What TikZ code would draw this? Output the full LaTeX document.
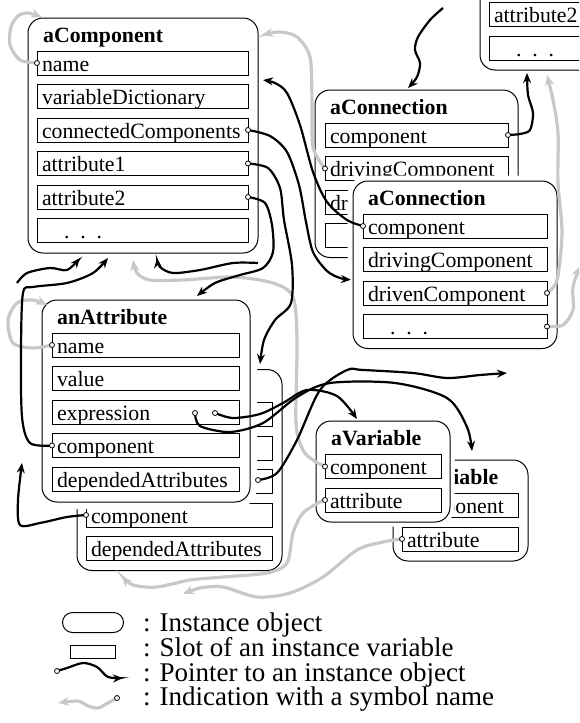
\documentclass[tikz,border=0pt]{standalone}
\usepackage{fontspec}
\setmainfont{Liberation Serif}
\usetikzlibrary{arrows.meta}
\definecolor{symgray}{RGB}{200,200,200}
\newcommand\slotfont{\fontsize{21.8pt}{24pt}\selectfont}
\newcommand\legfont{\fontsize{27pt}{29pt}\selectfont}

\begin{document}
\begin{tikzpicture}[x=1pt, y=-1pt,
  obj/.style={draw, line width=1pt, rounded corners=15pt, fill=white, inner sep=0pt, outer sep=0pt, anchor=north west},
  halo/.style={preaction={draw=white, line width=#1}},
  slot/.style={draw, line width=1pt, fill=white, anchor=north west, inner xsep=5pt, inner ysep=0pt, outer sep=0pt,
    text width=#1, text height=20pt, text depth=4pt, align=left, font=\slotfont},
  title/.style={anchor=base west, inner sep=0pt, font=\slotfont\bfseries},
  ptr/.style={line width=2.2pt, -{Stealth[length=10pt,width=8pt]}},
  sym/.style={draw=symgray, line width=3.2pt, -{Stealth[length=11pt,width=9pt]}},
  dot/.style={circle, draw, line width=0.8pt, fill=white, inner sep=0pt, minimum size=5pt},
  legtext/.style={anchor=base west, inner sep=0pt, font=\legfont}]

  \useasboundingbox (0,0) rectangle (579,723);
  \clip (0,0) rectangle (579,723);

  % objects behind
  \node[obj, minimum width=230pt, minimum height=235pt] (compB) at (480,-165) {};
  \node[slot=201pt] (compBAttrB) at (489,2) {attribute2};
  \node[slot=201pt] (compBMore) at (489,36.5) {\hspace*{22pt}. . .};

  \node[obj, minimum width=230pt, minimum height=235pt] (comp) at (28,18) {};
  \node[title] (compTitle) at (43,42) {aComponent};
  \foreach \n/\txt [count=\i from 0] in {Name/name, Dict/variableDictionary, Conn/connectedComponents,
      AttrA/attribute1, AttrB/attribute2, More/\hspace*{22pt}. . .}
    \node[slot=201pt] (comp\n) at (37,51+33.5*\i) {\txt};

  \node[obj, minimum width=203pt, minimum height=167.5pt] (conn) at (315,90) {};
  \node[title] (connTitle) at (330,114) {aConnection};
  \foreach \n/\txt [count=\i from 0] in {Comp/component, Driving/drivingComponent, Driven/drivenComponent, More/}
    \node[slot=173pt] (conn\n) at (325,123+33.5*\i) {\txt};

  \node[obj, halo=11pt, minimum width=204pt, minimum height=167.5pt] (connB) at (353,181) {};
  \node[title] (connBTitle) at (368,205) {aConnection};
  \foreach \n/\txt [count=\i from 0] in {Comp/component, Driving/drivingComponent, Driven/drivenComponent,
      More/\hspace*{22pt}. . .}
    \node[slot=174pt] (connB\n) at (363,214+33.5*\i) {\txt};

  % second attribute, mostly hidden
  \node[obj, minimum width=205pt, minimum height=201pt] (attrB) at (77,369.5) {};
  \foreach \n/\txt [count=\i from 0] in {Name/, Value/, Expr/, Comp/component, Dep/dependedAttributes}
    \node[slot=176pt] (attrB\n) at (86,402.5+33.5*\i) {\txt};

  \node[obj, halo=14pt, minimum width=208pt, minimum height=202pt] (attr) at (42,300) {};
  \node[title] (attrTitle) at (57,324) {anAttribute};
  \foreach \n/\txt [count=\i from 0] in {Name/name, Value/value, Expr/expression, Comp/component,
      Dep/dependedAttributes}
    \node[slot=177pt] (attr\n) at (52,333+33.5*\i) {\txt};

  \node[obj, minimum width=135pt, minimum height=101pt] (varB) at (393,460) {};
  \node[title] (varBTitle) at (408,484) {aVariable};
  \node[slot=106pt] (varBComp) at (402,493) {component};
  \node[slot=106pt] (varBAttr) at (402,527) {attribute};

  \node[obj, halo=9pt, minimum width=134pt, minimum height=101pt] (var) at (316,421) {};
  \node[title] (varTitle) at (331,445) {aVariable};
  \node[slot=106pt] (varComp) at (325,454.5) {component};
  \node[slot=106pt] (varAttr) at (325,488) {attribute};

  % free ends
  \coordinate (fromTop) at (443,8);
  \coordinate (fromLeft) at (17,283);
  \coordinate (fromRight) at (258,263);
  \coordinate (toLeft) at (22,463);
  \coordinate (toRight) at (507,373);
  \coordinate (toEdge) at (580,266);
  \coordinate (attrExprA) at ([shift={(143,1)}]attrExpr.west);
  \coordinate (attrExprB) at ([shift={(163,1)}]attrExpr.west);
  \coordinate (attrBExprA) at ([shift={(172,-1.5)}]attrBExpr.west);

  % symbol names
  \draw[sym] plot[smooth] coordinates {(compName.west) (20,60) (10,45) (11,27) (18,16) (28,13) ([shift={(14,-1)}]comp.north west)};
  \draw[sym] plot[smooth] coordinates {(connDriving.west) (313,147) (312,100) (310,57) (297,37) (280,32) ([shift={(4,-100.5)}]comp.east)};
  \draw[sym] plot[smooth] coordinates {(varComp.west) (313,460) (303,450) (296,423) (297,340) (293,297) (273,283) (233,277) (183,280) (150,280) (137,273) ([shift={(-10,7)}]comp.south)};
  \draw[sym] plot[smooth] coordinates {(varAttr.west) (320,502) (303,513) (293,533) (287,563) (267,573) (223,577) (190,580) (157,587) (133,585) ([shift={(45,5.5)}]attrB.south west)};
  \draw[sym] plot[smooth] coordinates {(varBAttr.west) (383,542) (357,550) (323,577) (290,593) (257,597) (223,587) (200,588) ([shift={(106,23.5)}]attrB.south west)};
  \draw[sym] plot[smooth] coordinates {(connBDriven.east) (557,280) (562,233) (558,183) (558,133) (553,100) ([shift={(67,5)}]compB.south west)};
  \draw[sym] plot[smooth] coordinates {(connBMore.east) (563,325) (573,310) (573,287) (toEdge)};
  \draw[sym] plot[smooth] coordinates {(attrName.west) (33,348) (13,343) (8,320) (17,303) (33,300) ([shift={(5,5)}]attr.north west)};

  % pointers
  \draw[ptr] plot[smooth] coordinates {(compConn.east) (270,136) (287,152) (299,185) (306,222) (313,252) (327,271) (340,278) ([shift={(-2,15)}]connB.west)};
  \draw[ptr] plot[smooth] coordinates {(compAttrA.east) (268,168) (280,188) (284,220) (292,265) (291,303) (275,320) (264,340) ([shift={(-22,-5.5)}]attrB.north east)};
  \draw[ptr] plot[smooth] coordinates {(compAttrB.east) (265,203) (272,225) (273,252) (263,268) (240,275) (215,283) ([shift={(51,-4)}]attr.north)};
  \draw[ptr] plot[smooth] coordinates {(connBComp.west) (347,220) (327,202) (313,172) (300,125) (287,93) (275,83) ([shift={(5,-55.5)}]comp.east)};
  \draw[ptr] plot[smooth] coordinates {(connComp.east) (520,134) (530,130) (533,113) (528,95) ([shift={(47,3)}]compB.south west)};
  \draw[ptr] plot[smooth] coordinates {(fromTop) (430,20) (418,37) (415,50) (420,63) (417,77) ([shift={(-8.5,-2)}]conn.north)};
  \draw[ptr] plot[smooth] coordinates {(attrComp.west) (30,443) (22,417) (21,350) (23,293) (33,287) (67,283) (93,273) ([shift={(-35,5)}]comp.south)};
  \draw[ptr] plot[smooth] coordinates {(fromLeft) (27,273) (50,268) (67,270) ([shift={(-63,5)}]comp.south)};
  \draw[ptr] plot[smooth] coordinates {(fromRight) (233,263) (200,270) (173,273) (160,267) ([shift={(14,5)}]comp.south)};
  \draw[ptr] plot[smooth] coordinates {(attrBComp.west) (67,517) (40,523) (20,525) (18,500) (toLeft)};
  \draw[ptr] plot[smooth] coordinates {(attrBExprA) (277,473) (297,440) (320,390) (347,370) (363,370) (413,373) (447,378) (480,375) (toRight)};
  \draw[ptr] plot[smooth] coordinates {(attrExprB) (233,418) (260,414) (283,403) (307,390) (337,396) ([shift={(-26,-2)}]var.north)};
  \draw[ptr] plot[smooth] coordinates {(attrExprA) (200,426) (230,432) (263,423) (297,397) (330,383) (395,383) (447,398) (467,427) ([shift={(11.5,-9)}]varB.north)};

  % slot ends
  \foreach \p in {compName.west, compConn.east, compAttrA.east, compAttrB.east, connComp.east, connDriving.west,
      connBComp.west, connBDriven.east, connBMore.east, attrName.west, attrComp.west, attrExprA, attrExprB,
      attrBComp.west, attrBExprA, varComp.west, varAttr.west, varBAttr.west}
    \node[dot] at (\p) {};

  % legend
  \node[draw, line width=1pt, rounded corners=10pt, minimum width=61pt, minimum height=20pt, inner sep=0pt, anchor=north west] (legObj) at (62,612) {};
  \node[draw, line width=1pt, minimum width=45pt, minimum height=13pt, inner sep=0pt, anchor=north west] (legSlot) at (70,645) {};
  \coordinate (legPtrA) at (57,671);
  \coordinate (legPtrB) at (123,678);
  \coordinate (legSymA) at (117,698);
  \coordinate (legSymB) at (58,703);
  \draw[ptr] plot[smooth] coordinates {(legPtrA) (67,668) (83,663) (97,667) (108,677) (legPtrB)};
  \draw[sym] plot[smooth] coordinates {(legSymA) (108,703) (98,708) (88,706) (78,701) (legSymB)};
  \node[dot] at (legPtrA) {};
  \node[dot] at (legSymA) {};
  \node[legtext] (legTextA) at (143,631) {: Instance object};
  \node[legtext] (legTextB) at (143,656) {: Slot of an instance variable};
  \node[legtext] (legTextC) at (143,681) {: Pointer to an instance object};
  \node[legtext] (legTextD) at (143,705) {: Indication with a symbol name};
\end{tikzpicture}
\end{document}
